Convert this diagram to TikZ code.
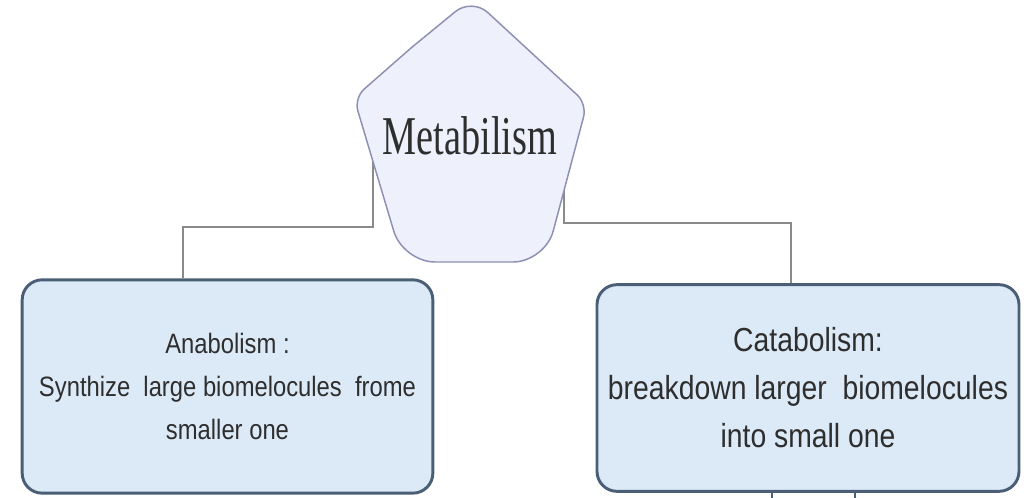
\documentclass[tikz,border=0pt]{standalone}
\usepackage{fontspec}
\setmainfont{Liberation Sans}
\newfontfamily\boxfont[FakeStretch=0.85]{Liberation Sans}
\newfontfamily\titlefont[FakeStretch=0.7]{Liberation Serif}
\definecolor{boxfill}{HTML}{DCEAF8}
\definecolor{boxline}{HTML}{4A5F75}
\definecolor{pentfill}{HTML}{EEF0FB}
\definecolor{pentline}{HTML}{8C90B2}
\definecolor{linkgray}{HTML}{8A8A8A}
\definecolor{textgray}{HTML}{2E2E2E}

\begin{document}
\begin{tikzpicture}[x=0.75pt,y=0.75pt,yscale=-1,xscale=1,
  procbox/.style={draw=boxline, fill=boxfill, line width=2.2pt, rounded corners=15pt,
    align=center, text=textgray, inner sep=0pt},
  link/.style={draw=linkgray, line width=1.5pt},
  pentagon/.style={draw=pentline, fill=pentfill, line width=1.1pt}]
\useasboundingbox (0,0) rectangle (1024,498);

% Text Node
\node [procbox, minimum width=308pt, minimum height=160pt,
  font=\boxfont\fontsize{21}{32.5}\selectfont] (ana) at (227.5,386.5)
  {Anabolism :\\Synthize\ \ large biomelocules\ \ frome\\smaller one};
% Text Node
\node [procbox, minimum width=316.5pt, minimum height=155pt,
  font=\boxfont\fontsize{25}{36}\selectfont] (cat) at (808,388)
  {Catabolism:\\breakdown larger\ \ biomelocules\\into small one};

%Straight Lines
\coordinate (metaW) at (373,150);
\coordinate (metaE) at (564,150);
\coordinate (leftBend) at (373,227);
\coordinate (rightBend) at (564,223);
\draw [link] (metaW) -- (leftBend) -| ([xshift=-33.4pt]ana.north);
\draw [link] (metaE) -- (rightBend) -| ([xshift=-12.75pt]cat.north);

%Straight Lines
\coordinate (stubA) at (772,498);
\coordinate (stubB) at (855,498);
\draw [draw=boxline, line width=1.5pt] (cat.south -| stubA) -- (stubA);
\draw [draw=boxline, line width=1.5pt] (cat.south -| stubB) -- (stubB);

%Shape: Pentagon
\draw [pentagon] (411,48) [rounded corners=16pt] -- (472,-2) [rounded corners=10pt] -- (587,104)
  [rounded corners=24pt] -- (545,262) -- (403,262) [rounded corners=10pt] -- (354,98)
  [sharp corners] -- cycle;

% Text Node
\node [anchor=base, text=textgray, font=\titlefont\fontsize{41}{41}\selectfont] (meta) at (470,155) {Metabilism};

\end{tikzpicture}
\end{document}
